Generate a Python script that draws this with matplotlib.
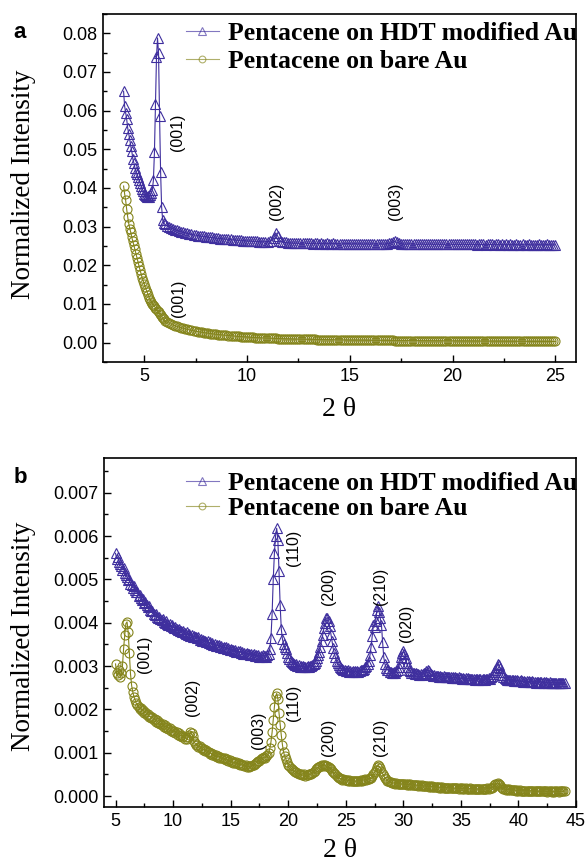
import numpy as np
import matplotlib
matplotlib.use('Agg')
from matplotlib import pyplot as plt
from matplotlib.ticker import MultipleLocator

plt.rcParams['font.family'] = ['Liberation Sans', 'DejaVu Sans']

# ---- panel a: low-angle scan (2 theta), intensities in 1e-4 / 1e-5 units
tt_a = np.concatenate([np.linspace(4.0, 5.95, 40), np.linspace(6.0, 25.0, 191)])

hdt_a = np.array([
    650, 612, 595, 578, 555, 540, 525, 508, 495, 475,
    465, 452, 442, 435, 428, 420, 414, 405, 398, 392,
    385, 381, 378, 376, 379, 377, 382, 388, 396, 420,
    492, 618, 738, 788, 748, 585, 442, 350, 318, 310,
    # 6.0 .. 25.0
    306, 302, 299, 297, 295, 292, 291, 289, 287, 286,
    284, 283, 281, 280, 279, 278, 277, 276, 275, 275,
    274, 273, 272, 272, 271, 270, 270, 269, 269, 268,
    268, 267, 267, 266, 266, 265, 265, 265, 264, 264,
    263, 263, 263, 262, 262, 262, 261, 261, 261, 261,
    261, 262, 264, 270, 284, 275, 264, 260, 259, 259,
    258, 258, 258, 257, 258, 257, 257, 257, 258, 257,
    257, 257, 256, 257, 257, 256, 257, 256, 256, 257,
    256, 256, 257, 256, 256, 256, 255, 256, 256, 256,
    256, 255, 256, 256, 255, 256, 255, 255, 256, 255,
    255, 256, 255, 255, 255, 256, 255, 255, 256, 257,
    258, 260, 262, 259, 257, 256, 255, 255, 255, 256,
    255, 255, 255, 254, 255, 255, 255, 254, 255, 255,
    255, 254, 255, 255, 254, 255, 254, 255, 254, 255,
    254, 254, 255, 254, 254, 255, 254, 254, 254, 255,
    254, 254, 253, 254, 254, 254, 253, 254, 254, 254,
    253, 254, 254, 253, 254, 253, 254, 253, 254, 253,
    253, 254, 253, 253, 254, 253, 253, 254, 253, 253,
    253, 253, 254, 253, 253, 253, 254, 253, 253, 253,
    253]) * 1e-4

bare_a = np.array([
    4050, 3850, 3680, 3450, 3250, 3080, 2950, 2850, 2720, 2620,
    2520, 2410, 2300, 2200, 2080, 1980, 1880, 1780, 1680, 1600,
    1520, 1430, 1370, 1300, 1220, 1160, 1100, 1050, 1010, 980,
    940, 900, 860, 820, 780, 750, 710, 670, 630, 600,
    # 6.0 .. 25.0
    560, 530, 505, 480, 455, 435, 418, 400, 385, 370,
    355, 342, 330, 318, 306, 296, 286, 276, 268, 260,
    252, 244, 236, 228, 222, 215, 210, 204, 198, 193,
    188, 183, 178, 173, 168, 164, 160, 156, 152, 148,
    144, 140, 137, 134, 131, 128, 125, 122, 120, 118,
    116, 113, 111, 109, 107, 105, 103, 102, 100, 98,
    97, 95, 94, 92, 91, 90, 88, 87, 86, 85,
    84, 83, 82, 81, 80, 79, 78, 77, 76, 75,
    74, 73, 73, 72, 71, 70, 70, 69, 68, 68,
    67, 66, 66, 65, 64, 64, 63, 62, 62, 61,
    61, 60, 60, 59, 59, 58, 58, 57, 57, 56,
    56, 56, 55, 55, 54, 54, 54, 53, 53, 52,
    52, 52, 51, 51, 51, 50, 50, 50, 49, 49,
    49, 48, 48, 48, 47, 47, 47, 46, 46, 46,
    45, 45, 45, 44, 44, 44, 43, 43, 43, 42,
    42, 42, 41, 41, 41, 40, 40, 40, 39, 39,
    39, 38, 38, 38, 37, 37, 37, 36, 36, 36,
    35, 35, 35, 34, 34, 34, 33, 33, 33, 32,
    32, 32, 32, 31, 31, 31, 30, 30, 30, 30,
    30]) * 1e-5

# ---- panel b: wide-angle scan, 5..44 step 0.1, intensities in 1e-5
tt_b = np.linspace(5.0, 44.0, 391)

hdt_b = np.array([
    560, 548, 552, 540, 535, 530, 522, 526, 515, 510,
    505, 498, 502, 490, 486, 480, 484, 475, 470, 472,
    462, 465, 456, 452, 455, 445, 448, 440, 436, 438,
    430, 426, 428, 421, 418, 420, 414, 411, 413, 408,
    406, 409, 402, 400, 403, 398, 395, 398, 392, 394,
    390, 387, 391, 385, 383, 386, 380, 382, 378, 381,
    377, 375, 378, 372, 374, 370, 372, 368, 370, 366,
    367, 364, 366, 361, 363, 359, 361, 357, 359, 355,
    357, 353, 355, 351, 353, 349, 351, 347, 349, 346,
    348, 344, 346, 342, 344, 341, 343, 339, 341, 338,
    340, 336, 338, 335, 337, 333, 335, 332, 334, 331,
    333, 329, 331, 328, 330, 327, 329, 326, 328, 325,
    327, 324, 326, 323, 325, 322, 324, 322, 325, 323,
    324, 322, 326, 328, 340, 365, 420, 500, 560, 600,
    618, 590, 520, 440, 385, 362, 350, 344, 340, 330,
    322, 316, 312, 309, 306, 304, 302, 304, 300, 302,
    299, 301, 298, 300, 297, 299, 298, 300, 298, 301,
    300, 302, 305, 308, 312, 318, 325, 333, 345, 358,
    372, 388, 400, 410, 412, 405, 392, 375, 358, 342,
    330, 320, 312, 306, 302, 298, 295, 293, 291, 290,
    289, 288, 290, 287, 288, 286, 288, 287, 289, 287,
    288, 287, 289, 290, 292, 291, 294, 297, 300, 305,
    312, 325, 345, 370, 395, 390, 405, 430, 438, 425,
    410, 395, 355, 320, 305, 296, 292, 290, 287, 286,
    285, 284, 286, 285, 288, 292, 298, 308, 320, 330,
    334, 328, 318, 306, 298, 292, 288, 285, 284, 283,
    282, 283, 281, 282, 280, 281, 280, 282, 283, 285,
    288, 292, 289, 284, 281, 279, 278, 279, 277, 278,
    277, 276, 278, 276, 275, 277, 275, 276, 274, 275,
    274, 275, 273, 274, 272, 274, 273, 272, 274, 272,
    272, 271, 273, 271, 272, 270, 272, 271, 270, 271,
    270, 271, 269, 271, 270, 269, 271, 270, 269, 270,
    270, 269, 271, 270, 272, 271, 274, 277, 281, 286,
    292, 298, 304, 302, 295, 287, 280, 275, 272, 270,
    269, 268, 269, 267, 268, 267, 266, 268, 266, 267,
    266, 265, 267, 265, 264, 266, 264, 265, 263, 265,
    264, 263, 265, 263, 264, 262, 264, 263, 262, 264,
    263, 262, 263, 261, 263, 262, 261, 263, 261, 262,
    262, 261, 262, 260, 262, 261, 260, 261, 260, 261,
    260]) * 1e-5

bare_b = np.array([
    305, 283, 280, 290, 276, 285, 300, 340, 372, 398,
    402, 378, 330, 282, 255, 240, 229, 222, 214, 210,
    206, 200, 204, 196, 199, 192, 195, 188, 190, 183,
    185, 180, 182, 176, 178, 172, 175, 169, 171, 166,
    164, 167, 160, 163, 157, 160, 154, 157, 151, 153,
    148, 151, 145, 148, 142, 145, 139, 142, 136, 138,
    133, 136, 131, 136, 142, 149, 146, 138, 127, 122,
    117, 119, 113, 115, 110, 112, 107, 109, 104, 106,
    101, 103, 98, 100, 96, 98, 93, 95, 91, 93,
    89, 91, 87, 89, 85, 87, 83, 85, 81, 83,
    79, 81, 77, 79, 76, 78, 74, 76, 72, 74,
    71, 73, 69, 71, 68, 70, 67, 69, 70, 72,
    71, 74, 76, 79, 82, 80, 85, 87, 88, 90,
    89, 92, 95, 100, 110, 125, 147, 176, 206, 230,
    237, 225, 192, 165, 140, 118, 101, 92, 85, 78,
    72, 69, 66, 63, 61, 58, 56, 55, 53, 52,
    50, 51, 49, 48, 50, 47, 49, 48, 50, 51,
    52, 54, 56, 59, 62, 64, 67, 68, 70, 71,
    70, 72, 71, 69, 70, 68, 65, 62, 58, 55,
    53, 50, 47, 44, 42, 41, 40, 38, 39, 37,
    38, 37, 36, 37, 35, 36, 35, 36, 34, 35,
    35, 36, 35, 37, 36, 38, 37, 39, 38, 40,
    40, 41, 43, 46, 50, 55, 61, 67, 71, 69,
    65, 58, 52, 47, 42, 39, 36, 35, 33, 32,
    31, 30, 31, 29, 30, 29, 28, 29, 28, 28,
    28, 27, 28, 26, 27, 26, 27, 26, 25, 26,
    26, 25, 26, 24, 25, 24, 25, 23, 24, 23,
    23, 24, 22, 23, 22, 23, 21, 22, 21, 22,
    21, 20, 21, 20, 21, 19, 20, 19, 20, 19,
    19, 20, 18, 19, 18, 19, 18, 19, 17, 18,
    18, 17, 18, 17, 18, 17, 16, 17, 18, 17,
    17, 16, 17, 16, 17, 16, 17, 16, 17, 16,
    17, 16, 17, 18, 17, 18, 19, 20, 22, 25,
    27, 29, 30, 28, 25, 22, 19, 17, 16, 15,
    16, 15, 16, 14, 15, 14, 15, 14, 13, 14,
    13, 14, 13, 12, 13, 12, 13, 12, 13, 12,
    12, 13, 12, 11, 12, 11, 12, 11, 12, 11,
    11, 12, 11, 12, 11, 10, 11, 12, 11, 10,
    11, 10, 11, 12, 11, 10, 11, 12, 11, 11,
    12]) * 1e-5

labels = ['Pentacene on HDT modified Au', 'Pentacene on bare Au']

# peak labels: (text, 2theta, intensity)
peaks_a = [('(001)', 6.64, 0.0543), ('(002)', 11.45, 0.0366),
           ('(003)', 17.2, 0.0366), ('(001)', 6.65, 0.0115)]
peaks_b = [('(110)', 20.5, 0.00573), ('(200)', 23.5, 0.00484),
           ('(210)', 28.0, 0.00484), ('(020)', 30.3, 0.00398),
           ('(001)', 7.5, 0.00327), ('(002)', 11.7, 0.00228),
           ('(003)', 17.4, 0.00152), ('(110)', 20.5, 0.00216),
           ('(200)', 23.5, 0.00136), ('(210)', 28.0, 0.00136)]

c_hdt = '#3f2f9e'
c_bare = '#85851c'
serif = ['Liberation Serif', 'DejaVu Serif']

fig = plt.figure(figsize=(5.87, 8.61), dpi=100)
ax_a = fig.add_axes([0.1755, 0.5796, 0.8058, 0.4042])
ax_b = fig.add_axes([0.1772, 0.0627, 0.8041, 0.4054])


def draw(ax, x, y_hdt, y_bare, anchor, spacing):
    ax.plot(x, y_hdt, color=c_hdt, lw=0.8, marker='^', ms=7, mfc='none',
            mew=0.8, label=labels[0])
    ax.plot(x, y_bare, color=c_bare, lw=0.8, marker='o', ms=6.5, mfc='none',
            mew=0.8, label=labels[1])
    leg = ax.legend(loc='upper right', bbox_to_anchor=anchor, frameon=False,
                    handlelength=1.3, handletextpad=0.35, borderaxespad=0, borderpad=0,
                    labelspacing=spacing, prop={'family': serif, 'weight': 'bold', 'size': 18.5},
                    markerscale=0.75)
    for h in leg.legend_handles:
        h.set_alpha(0.65)
    for s in ax.spines.values():
        s.set_linewidth(1.2)
    ax.tick_params(which='both', direction='in', top=False, right=False, labelsize=13, pad=4)
    ax.tick_params(which='major', length=5, width=1)
    ax.tick_params(which='minor', length=3, width=1)
    ax.set_ylabel('Normalized Intensity', family=serif, fontsize=19.5)
    ax.set_xlabel('2 θ', family=serif, fontsize=20)


draw(ax_a, tt_a, hdt_a, bare_a, (1.003, 0.976), 0.2)
ax_a.set_xlim(3, 26)
ax_a.set_ylim(-0.005, 0.085)
ax_a.xaxis.set_major_locator(MultipleLocator(5))
ax_a.xaxis.set_minor_locator(MultipleLocator(2.5))
ax_a.yaxis.set_major_locator(MultipleLocator(0.01))
ax_a.yaxis.set_minor_locator(MultipleLocator(0.005))
ax_a.yaxis.set_major_formatter(lambda v, p: f'{v:.2f}')
ax_a.yaxis.set_label_coords(-0.142, 0.51)
ax_a.xaxis.set_label_coords(0.5, -0.10)
for t, x, y in peaks_a:
    ax_a.text(x, y, t, rotation=90, ha='center', va='center', fontsize=11.5)

draw(ax_b, tt_b, hdt_b, bare_b, (1.003, 0.96), 0.08)
ax_b.set_xlim(4, 45)
ax_b.set_ylim(-0.00025, 0.0078)
ax_b.xaxis.set_major_locator(MultipleLocator(5))
ax_b.xaxis.set_minor_locator(MultipleLocator(2.5))
ax_b.yaxis.set_major_locator(MultipleLocator(0.001))
ax_b.yaxis.set_minor_locator(MultipleLocator(0.0005))
ax_b.yaxis.set_major_formatter(lambda v, p: f'{v:.3f}')
ax_b.yaxis.set_label_coords(-0.145, 0.49)
ax_b.xaxis.set_label_coords(0.5, -0.088)
for t, x, y in peaks_b:
    ax_b.text(x, y, t, rotation=90, ha='center', va='center', fontsize=11.5)

fig.text(0.034, 0.962, 'a', fontsize=16, fontweight='bold', ha='center', va='center')
fig.text(0.034, 0.445, 'b', fontsize=16, fontweight='bold', ha='center', va='center')

fig.savefig('out.png', dpi=100)
